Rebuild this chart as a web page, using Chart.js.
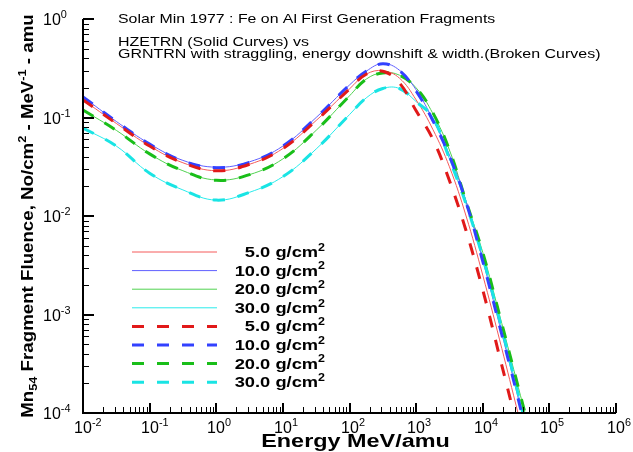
<!DOCTYPE html>
<html>
<head>
<meta charset="utf-8">
<script src="https://cdn.jsdelivr.net/npm/chart.js@4.4.1/dist/chart.umd.min.js"></script>
<style>
  body { margin: 0; background: #fff; }
</style>
</head>
<body>
<canvas id="myChart" width="633" height="452"></canvas>
<script>
// Energy grid, MeV/amu
const energy = [1e-2, 3.16e-2, 1e-1, 3.16e-1, 1, 3.16, 10, 31.6, 100, 178, 316, 562,
                1000, 1780, 3160, 5620, 1e4, 1.78e4, 3.16e4, 5.62e4];

// HZETRN, solid curves
const hze5  = [0.151, 0.0871, 0.0513, 0.0347, 0.0288, 0.0335, 0.0484, 0.0933, 0.195, 0.275,
               0.299, 0.251, 0.151, 0.0759, 0.0316, 0.0100, 0.00251, 0.000562, 0.000120, 0.0000251];
const hze10 = [0.162, 0.0912, 0.0540, 0.0367, 0.0313, 0.0355, 0.0513, 0.100, 0.214, 0.295,
               0.353, 0.302, 0.191, 0.0955, 0.0417, 0.0141, 0.00355, 0.000794, 0.000174, 0.0000355];
const hze20 = [0.119, 0.0741, 0.0427, 0.0288, 0.0232, 0.0263, 0.0380, 0.0741, 0.166, 0.245,
               0.285, 0.269, 0.200, 0.110, 0.0468, 0.0141, 0.00427, 0.00100, 0.000224, 0.0000501];
const hze30 = [0.0782, 0.0513, 0.0272, 0.0184, 0.0145, 0.0174, 0.0251, 0.0479, 0.107, 0.158,
               0.197, 0.197, 0.145, 0.100, 0.0380, 0.0132, 0.00380, 0.000891, 0.000191, 0.0000398];

// GRNTRN, broken curves
const grn5  = [0.151, 0.0871, 0.0513, 0.0347, 0.0288, 0.0335, 0.0484, 0.0933, 0.195, 0.275,
               0.295, 0.224, 0.117, 0.0603, 0.0229, 0.00708, 0.00178, 0.000380, 0.0000794, 0.0000141];
const grn10 = [0.162, 0.0912, 0.0537, 0.0363, 0.0309, 0.0351, 0.0513, 0.100, 0.214, 0.295,
               0.351, 0.299, 0.186, 0.0933, 0.0407, 0.0138, 0.00347, 0.000776, 0.000170, 0.0000347];
const grn20 = [0.119, 0.0741, 0.0427, 0.0288, 0.0230, 0.0263, 0.0380, 0.0741, 0.166, 0.245,
               0.283, 0.269, 0.200, 0.112, 0.0468, 0.0141, 0.00427, 0.00100, 0.000224, 0.0000501];
const grn30 = [0.0782, 0.0513, 0.0272, 0.0184, 0.0145, 0.0174, 0.0251, 0.0479, 0.107, 0.158,
               0.197, 0.197, 0.145, 0.100, 0.0380, 0.0132, 0.00380, 0.000891, 0.000191, 0.0000398];

const depths = ['5.0', '10.0', '20.0', '30.0'];

// tick labels are 10^n
const xExponents = ['-2', '-1', '0', '1', '2', '3', '4', '5', '6'];
const yExponents = ['0', '-1', '-2', '-3', '-4'];

const solidColors  = ['rgb(245,90,90)', 'rgb(95,95,255)', 'rgb(80,210,80)', 'rgb(40,235,235)'];
const brokenColors = ['rgb(225,25,25)', 'rgb(50,65,255)', 'rgb(25,190,25)', 'rgb(25,228,228)'];

const FONT = '"Liberation Sans", Arial, sans-serif';

const toPoints = (vals) => vals.map((v, i) => ({x: energy[i], y: v}));

const solidSets = [hze5, hze10, hze20, hze30].map((vals, i) => ({
    label: depths[i] + ' g/cm2',
    data: toPoints(vals),
    borderColor: solidColors[i],
    borderWidth: 1,
    order: 2
}));

const brokenSets = [grn5, grn10, grn20, grn30].map((vals, i) => ({
    label: depths[i] + ' g/cm2',
    data: toPoints(vals),
    borderColor: brokenColors[i],
    borderWidth: 3,
    borderDash: [12, 13],
    order: 1
}));

// text with superscripts / subscripts: runs of [text, 'sup'|'sub'|undefined]
// sx stretches the glyphs horizontally
function richText(ctx, runs, x, y, size, weight, align, sx) {
    sx = sx || 1;
    const parts = runs.map(r => {
        const s = r[1] ? size * 0.68 : size;
        ctx.font = weight + ' ' + s + 'px ' + FONT;
        return {text: r[0], mode: r[1], size: s, w: ctx.measureText(r[0]).width * sx};
    });
    const total = parts.reduce((a, p) => a + p.w, 0);
    let cx = align === 'right' ? x - total : align === 'center' ? x - total / 2 : x;
    ctx.textAlign = 'left';
    ctx.textBaseline = 'alphabetic';
    parts.forEach(p => {
        ctx.font = weight + ' ' + p.size + 'px ' + FONT;
        const dy = p.mode === 'sup' ? -size * 0.42 : p.mode === 'sub' ? size * 0.25 : 0;
        ctx.save();
        ctx.translate(cx, y + dy);
        ctx.scale(sx, 1);
        ctx.fillText(p.text, 0, 0);
        ctx.restore();
        cx += p.w;
    });
    return total;
}

const frame = {
    id: 'frame',
    afterDraw(chart) {
        const {ctx, chartArea: a, scales: {x, y}} = chart;
        ctx.save();
        ctx.strokeStyle = '#000';
        ctx.fillStyle = '#000';

        // axis lines
        ctx.lineWidth = 2;
        ctx.beginPath();
        ctx.moveTo(a.left, a.top);
        ctx.lineTo(a.left, a.bottom);
        ctx.lineTo(a.right, a.bottom);
        ctx.stroke();

        // x ticks, pointing inward
        xExponents.forEach((e, i) => {
            const d = Number(e);
            const px = Math.round(x.getPixelForValue(Math.pow(10, d)));
            ctx.lineWidth = 2;
            ctx.beginPath();
            ctx.moveTo(px, a.bottom);
            ctx.lineTo(px, a.bottom - 10);
            ctx.stroke();
            if (i < xExponents.length - 1) {
                ctx.lineWidth = 1;
                for (let m = 2; m <= 9; m++) {
                    const mx = Math.round(x.getPixelForValue(m * Math.pow(10, d))) + 0.5;
                    ctx.beginPath();
                    ctx.moveTo(mx, a.bottom);
                    ctx.lineTo(mx, a.bottom - 6);
                    ctx.stroke();
                }
            }
            ctx.font = '16px ' + FONT;
            const w10 = ctx.measureText('10').width;
            richText(ctx, [['10'], [e, 'sup']], px - w10 / 2, a.bottom + 20, 16, 'normal', 'left');
        });

        // y ticks
        yExponents.forEach((e, i) => {
            const d = Number(e);
            const py = Math.round(y.getPixelForValue(Math.pow(10, d)));
            ctx.lineWidth = 2;
            ctx.beginPath();
            ctx.moveTo(a.left, py);
            ctx.lineTo(a.left + 11, py);
            ctx.stroke();
            if (i < yExponents.length - 1) {
                ctx.lineWidth = 1;
                for (let m = 2; m <= 9; m++) {
                    const my = Math.round(y.getPixelForValue(m * Math.pow(10, d - 1))) + 0.5;
                    ctx.beginPath();
                    ctx.moveTo(a.left, my);
                    ctx.lineTo(a.left + 6, my);
                    ctx.stroke();
                }
            }
            richText(ctx, [['10'], [e, 'sup']], 43, py + 6, 16, 'normal', 'left');
        });

        // axis titles
        richText(ctx, [['Energy MeV/amu']], (a.left + a.right) / 2 + 6, 447, 18, 'bold', 'center', 1.3);

        ctx.save();
        ctx.translate(33, (a.top + a.bottom) / 2);
        ctx.rotate(-Math.PI / 2);
        richText(ctx, [['Mn'], ['54', 'sub'], [' Fragment Fluence, No/cm'], ['2', 'sup'],
                       [' - MeV'], ['-1', 'sup'], [' - amu']], 0, 0, 17, 'bold', 'center', 1.1);
        ctx.restore();

        // heading
        richText(ctx, [['Solar Min 1977 : Fe on Al First Generation Fragments']], 118, 23, 13, 'normal', 'left', 1.22);
        richText(ctx, [['HZETRN (Solid Curves) vs']], 118, 46, 13, 'normal', 'left', 1.23);
        richText(ctx, [['GRNTRN with straggling, energy downshift & width.(Broken Curves)']], 118, 58, 13, 'normal', 'left', 1.23);

        // legend
        const sets = chart.data.datasets;
        sets.forEach((ds, i) => {
            const ly = 252 + i * 18.6;
            ctx.save();
            ctx.strokeStyle = ds.borderColor;
            ctx.lineWidth = ds.borderWidth;
            ctx.setLineDash(ds.borderDash || []);
            ctx.beginPath();
            ctx.moveTo(132, ly);
            ctx.lineTo(217, ly);
            ctx.stroke();
            ctx.restore();
            richText(ctx, [[depths[i % 4] + ' g/cm'], ['2', 'sup']], 325, ly + 5, 15, 'bold', 'right', 1.22);
        });
        ctx.restore();
    }
};

const config = {
    type: 'line',
    data: {datasets: solidSets.concat(brokenSets)},
    options: {
        responsive: false,
        animation: false,
        layout: {padding: {left: 83, right: 17, top: 19, bottom: 39}},
        elements: {
            point: {radius: 0},
            line: {tension: 0.4, fill: false}
        },
        scales: {
            x: {type: 'logarithmic', min: 1e-2, max: 1e6, display: false},
            y: {type: 'logarithmic', min: 1e-4, max: 1, display: false}
        },
        plugins: {legend: {display: false}, tooltip: {enabled: false}}
    },
    plugins: [frame]
};

const myChart = new Chart(document.getElementById('myChart'), config);
</script>
</body>
</html>
